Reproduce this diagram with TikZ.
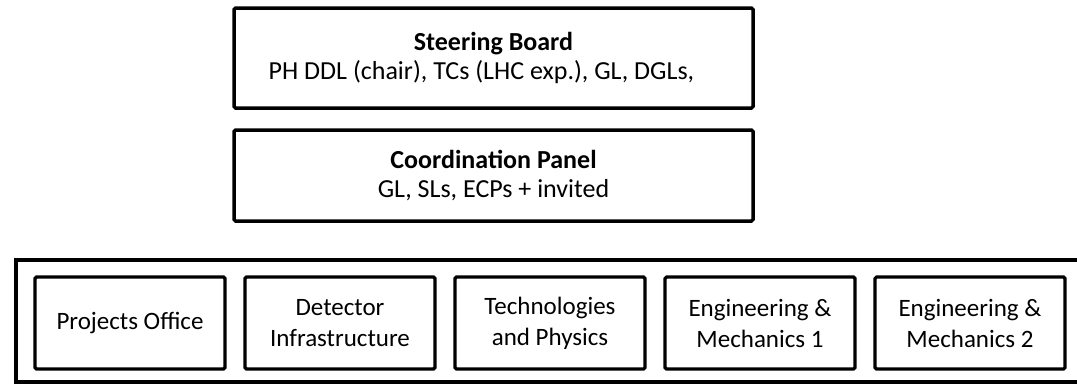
\documentclass[tikz,border=0pt]{standalone}
\usepackage{fontspec}
\setmainfont{Carlito}
\begin{document}
\begin{tikzpicture}[x=1pt,y=-1pt,
  topbox/.style={draw=black, line width=3.5pt, rounded corners=1.5pt, minimum width=519pt, align=center, inner sep=0pt, font=\fontsize{26}{29}\selectfont},
  unitbox/.style={draw=black, line width=3.2pt, rounded corners=1.5pt, minimum width=190pt, minimum height=92pt, align=center, inner sep=0pt, font=\fontsize{25}{31}\selectfont},
  groupbox/.style={draw=black, line width=3.2pt}]
\useasboundingbox (0,0) rectangle (1077,384);
\clip (0,0) rectangle (1077,384);
\node[topbox, minimum height=100pt] (sb) at (493.5,58) {\textbf{Steering Board}\\PH DDL (chair), TCs (LHC exp.), GL, DGLs,\hspace*{24pt}};
\node[topbox, minimum height=91pt] (cp) at (493.5,175.5) {\textbf{Coordination Panel}\\GL, SLs, ECPs + invited};
\coordinate (gtl) at (16,260);
\coordinate (gbr) at (1090,382);
\draw[groupbox] (gtl) rectangle (gbr);
\node[unitbox] (po) at (130,323) {Projects Office};
\node[unitbox] (di) at (340,323) {Detector\\Infrastructure};
\node[unitbox] (tp) at (550,323) {Technologies\\and Physics};
\node[unitbox] (em1) at (760,323) {Engineering \&\\Mechanics 1};
\node[unitbox] (em2) at (970,323) {Engineering \&\\Mechanics 2};
\end{tikzpicture}
\end{document}
